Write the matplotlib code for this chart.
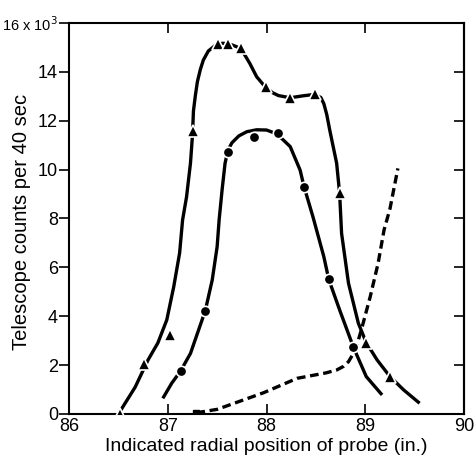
import numpy as np
import matplotlib
matplotlib.use("Agg")
import matplotlib.pyplot as plt

plt.rcParams['font.family'] = ['Liberation Sans', 'DejaVu Sans']

# triangle series (measured points, counts in thousands)
tri_x = [86.52, 86.76, 87.02, 87.26, 87.51, 87.61, 87.74, 87.99, 88.24, 88.49, 88.74, 89.01, 89.25]
tri_y = [0.0, 2.06, 3.22, 11.58, 15.13, 15.14, 14.96, 13.37, 12.94, 13.08, 9.03, 2.92, 1.53]
# hand-drawn curve through the triangles
tri_cx = [86.50, 86.67, 86.80, 86.90, 86.99, 87.06, 87.12, 87.15, 87.19, 87.23, 87.25, 87.26,
          87.28, 87.30, 87.33, 87.36, 87.41, 87.48, 87.55, 87.62, 87.74, 87.83, 87.90, 87.99,
          88.06, 88.12, 88.24, 88.37, 88.49, 88.55, 88.58, 88.61, 88.64, 88.71, 88.74, 88.76,
          88.83, 88.93, 89.01, 89.12, 89.25, 89.39, 89.55]
tri_cy = [0.0, 1.10, 2.21, 2.91, 3.85, 5.20, 6.59, 7.94, 8.88, 10.27, 11.40, 12.40,
          13.05, 13.60, 14.10, 14.48, 14.85, 15.08, 15.17, 15.15, 14.96, 14.35, 13.80, 13.37,
          13.15, 13.03, 12.94, 13.02, 13.08, 12.95, 12.70, 12.25, 11.62, 10.26, 9.03, 7.39,
          5.35, 3.71, 2.92, 2.21, 1.53, 0.98, 0.44]

# circle series
cir_x = [87.13, 87.38, 87.61, 87.87, 88.12, 88.38, 88.63, 88.88]
cir_y = [1.76, 4.23, 10.73, 11.32, 11.51, 9.30, 5.51, 2.73]
cir_cx = [86.95, 87.04, 87.13, 87.23, 87.38, 87.45, 87.50, 87.52, 87.55, 87.58, 87.61, 87.65,
          87.72, 87.80, 87.90, 88.00, 88.08, 88.16, 88.24, 88.34, 88.38, 88.47, 88.58, 88.63,
          88.74, 88.88, 89.01, 89.17]
cir_cy = [0.64, 1.26, 1.76, 2.48, 4.23, 5.48, 6.85, 7.94, 9.17, 10.26, 10.80, 11.10,
          11.38, 11.55, 11.63, 11.62, 11.50, 11.25, 10.94, 9.98, 9.30, 8.07, 6.44, 5.51,
          4.26, 2.73, 1.53, 0.78]

# dashed curve
dash_x = [87.29, 87.50, 87.68, 87.97, 88.31, 88.60, 88.71, 88.78, 88.83, 88.90, 88.96, 89.05,
          89.13, 89.19, 89.25, 89.33]
dash_y = [0.05, 0.19, 0.45, 0.87, 1.46, 1.68, 1.80, 1.95, 2.14, 2.62, 3.44, 4.80,
          6.17, 7.53, 8.40, 10.05]

xticks = [86, 87, 88, 89, 90]
yticks = [0, 2, 4, 6, 8, 10, 12, 14, 16]
ylabels = ['0', '2', '4', '6', '8', '10', '12', '14', '16 x 10$^3$']

fig = plt.figure(figsize=(4.74, 4.57), dpi=100)
ax = fig.add_axes([0.1456, 0.0941, 0.8334, 0.8556])

lw = 2.4
ax.plot(tri_cx, tri_cy, color='black', lw=lw, solid_capstyle='butt', solid_joinstyle='round')
ax.plot(cir_cx, cir_cy, color='black', lw=lw, solid_capstyle='butt', solid_joinstyle='round')
ax.plot(dash_x, dash_y, color='black', lw=lw, dashes=(2.6, 1.4))
ax.plot(tri_x, tri_y, linestyle='none', marker='^', ms=9, mfc='black',
        mec='white', mew=1.2, zorder=3)
ax.plot(cir_x, cir_y, linestyle='none', marker='o', ms=7.5, mfc='black',
        mec='white', mew=1.2, zorder=3)
ax.plot([dash_x[0]], [dash_y[0]], linestyle='none', marker='s', ms=4, color='black', zorder=3)

ax.set_xlim(86, 90)
ax.set_ylim(0, 16)
ax.set_xticks(xticks)
ax.set_yticks(yticks)
ax.set_yticklabels(ylabels)
ax.tick_params(axis='x', direction='in', top=True, length=7, width=1.2, labelsize=13, pad=3)
ax.tick_params(axis='y', direction='out', length=7, width=1.2, labelsize=13, pad=1)
ax.get_yticklabels()[-1].set_fontsize(10.5)
sec = ax.secondary_yaxis('right')
sec.set_yticks(yticks[1:-1])
sec.tick_params(direction='in', length=7, width=1.2, labelright=False)
sec.spines['right'].set_linewidth(1.5)
for s in ax.spines.values():
    s.set_linewidth(1.5)

ax.set_xlabel('Indicated radial position of probe (in.)', fontsize=14, labelpad=2)
ax.set_ylabel('Telescope counts per 40 sec', fontsize=14.5)
ax.yaxis.set_label_coords(-0.095, 0.49)

fig.savefig('out.png', dpi=100)
